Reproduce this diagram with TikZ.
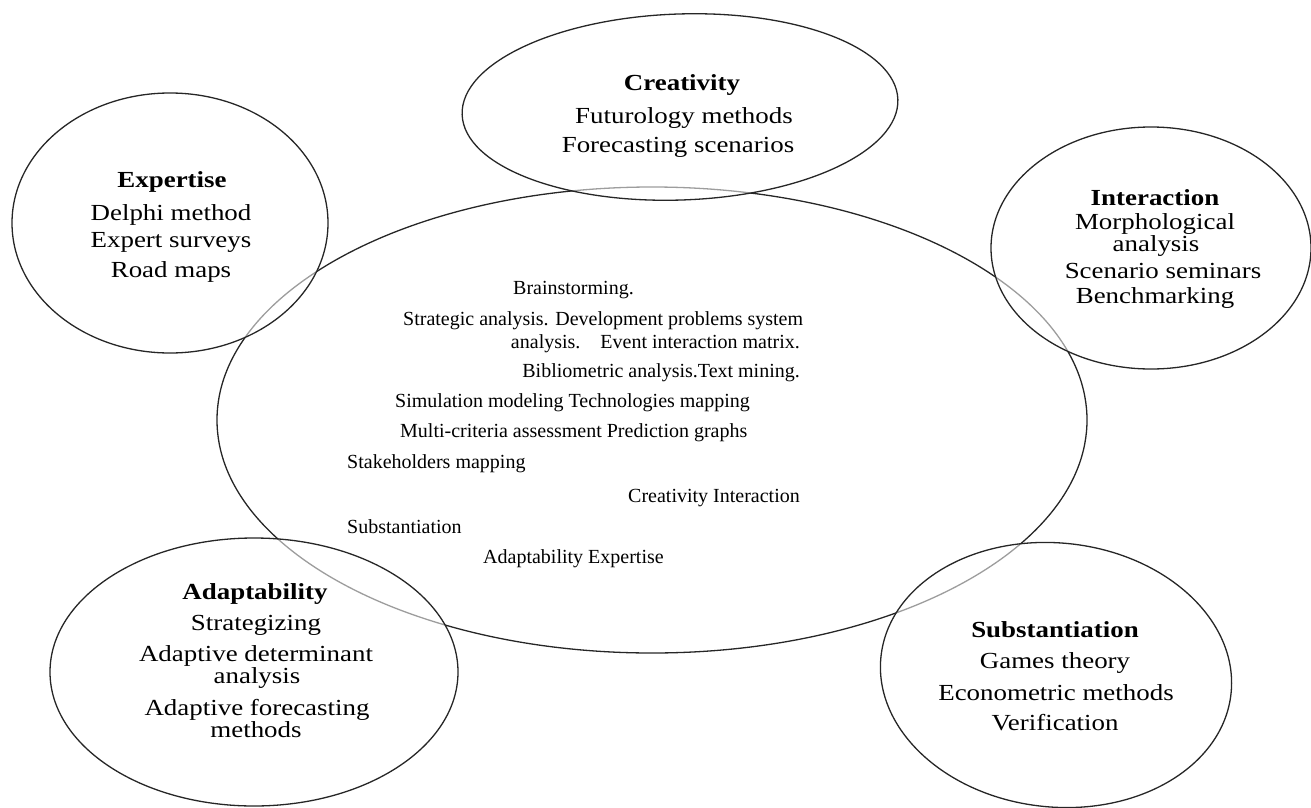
\documentclass[tikz,border=0pt]{standalone}
\usepackage{fontspec}
\setmainfont{Liberation Serif}
\newfontfamily\wideserif[FakeStretch=1.17]{Liberation Serif}
\usetikzlibrary{shapes.geometric}
\begin{document}
\begin{tikzpicture}[x=1pt,y=-1pt,
  outline/.style={draw=black!85, line width=1.3pt},
  hub/.style={ellipse, outline, inner sep=0pt},
  petal/.style={ellipse, outline, fill=white, fill opacity=0.55, inner sep=0pt},
  petaltext/.style={anchor=base, inner sep=0pt, font=\wideserif\fontsize{23}{27}\selectfont},
  hubtext/.style={inner sep=0pt, font=\fontsize{20}{24}\selectfont},
]
\useasboundingbox (0,0) rectangle (1311,808);

% central ellipse with the common methods
\node[hub, minimum width=870pt, minimum height=466pt] (core) at (652,420) {};

% five surrounding groups, drawn over the central outline
\node[petal, minimum width=436pt, minimum height=186pt, rotate=2] (creativity) at (680,107) {};
\node[petal, minimum width=316pt, minimum height=260pt] (expertise) at (170,223) {};
\node[petal, minimum width=320pt, minimum height=242pt] (interaction) at (1151,248) {};
\node[petal, minimum width=408pt, minimum height=268pt] (adaptability) at (254,672) {};
\node[petal, minimum width=352pt, minimum height=264pt, rotate=-6] (substantiation) at (1056,675) {};

% Creativity
\node[petaltext] (cr1) at (682,90) {\bfseries Creativity};
\node[petaltext] (cr2) at (684,123) {Futurology methods};
\node[petaltext] (cr3) at (678,152) {Forecasting scenarios};

% Expertise
\node[petaltext] (ex1) at (172,187) {\bfseries Expertise};
\node[petaltext] (ex2) at (171,220) {Delphi method};
\node[petaltext] (ex3) at (171,247) {Expert surveys};
\node[petaltext] (ex4) at (171,277) {Road maps};

% Interaction
\node[petaltext] (in1) at (1155,205) {\bfseries Interaction};
\node[petaltext] (in2) at (1155,229) {Morphological};
\node[petaltext] (in3) at (1156,251) {analysis};
\node[petaltext] (in4) at (1163,278) {Scenario seminars};
\node[petaltext] (in5) at (1155,303) {Benchmarking};

% Adaptability
\node[petaltext] (ad1) at (255,599) {\bfseries Adaptability};
\node[petaltext] (ad2) at (256,630) {Strategizing};
\node[petaltext] (ad3) at (256,661) {Adaptive determinant};
\node[petaltext] (ad4) at (257,683) {analysis};
\node[petaltext] (ad5) at (257,715) {Adaptive forecasting};
\node[petaltext] (ad6) at (256,737) {methods};

% Substantiation
\node[petaltext] (su1) at (1055,637) {\bfseries Substantiation};
\node[petaltext] (su2) at (1055,668) {Games theory};
\node[petaltext] (su3) at (1056,700) {Econometric methods};
\node[petaltext] (su4) at (1055,730) {Verification};

% methods listed in the central ellipse
\node[hubtext, anchor=base west] (m1) at (513,294) {Brainstorming.};
\node[hubtext, anchor=base west] (m2) at (403,325) {Strategic analysis. Development problems system};
\node[hubtext, anchor=base east] (m3) at (800,348) {analysis.\quad Event interaction matrix.};
\node[hubtext, anchor=base east] (m4) at (800,377) {Bibliometric analysis.Text mining.};
\node[hubtext, anchor=base west] (m5) at (395,407) {Simulation modeling Technologies mapping};
\node[hubtext, anchor=base west] (m6) at (400,437) {Multi-criteria assessment Prediction graphs};
\node[hubtext, anchor=base west] (m7) at (347,468) {Stakeholders mapping};
\node[hubtext, anchor=base west] (m8) at (628,502) {Creativity Interaction};
\node[hubtext, anchor=base west] (m9) at (347,533) {Substantiation};
\node[hubtext, anchor=base west] (m10) at (483,563) {Adaptability Expertise};
\end{tikzpicture}
\end{document}
